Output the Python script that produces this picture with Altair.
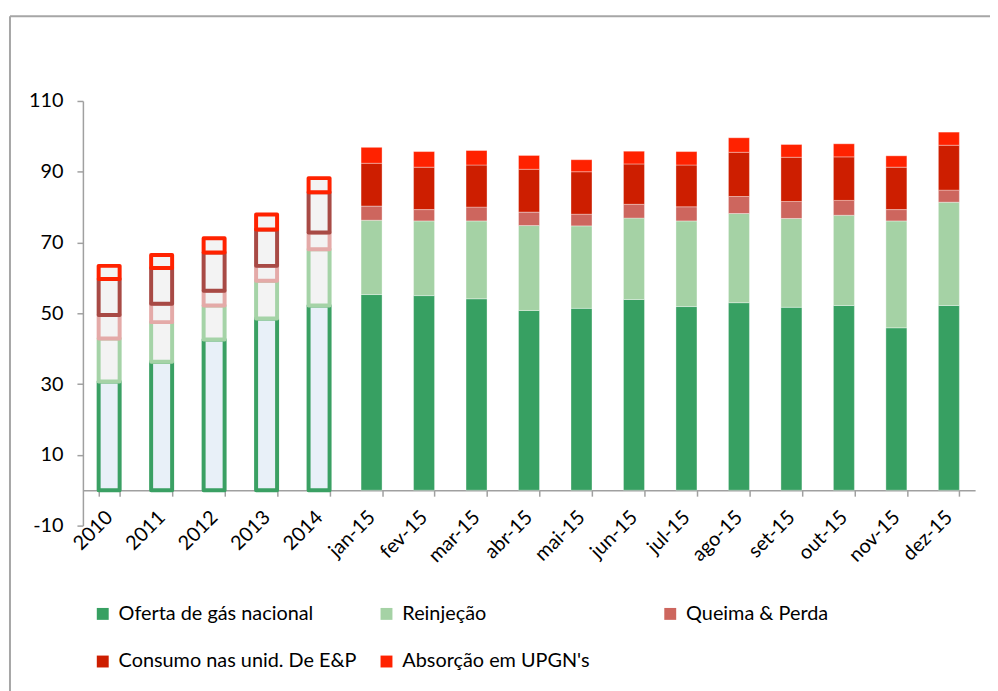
import altair as alt
import pandas as pd

CATEGORIES = ["2010", "2011", "2012", "2013", "2014",
              "jan-15", "fev-15", "mar-15", "abr-15", "mai-15", "jun-15",
              "jul-15", "ago-15", "set-15", "out-15", "nov-15", "dez-15"]
ANNUAL = ["2010", "2011", "2012", "2013", "2014"]
SERIES = ["Oferta de gás nacional", "Reinjeção", "Queima & Perda",
          "Consumo nas unid. De E&P", "Absorção em UPGN's"]

oferta = [30.7, 36.3, 42.6, 48.5, 52.2, 55.3, 55.0, 54.1, 50.8, 51.4, 53.9,
          51.9, 53.0, 51.7, 52.2, 45.9, 52.2]
reinjecao = [12.2, 11.2, 9.6, 10.7, 15.9, 21.0, 21.1, 22.0, 24.0, 23.3, 23.0,
             24.2, 25.2, 25.1, 25.5, 30.2, 29.2]
queima = [6.6, 5.2, 4.2, 4.2, 4.7, 4.0, 3.2, 3.9, 3.8, 3.3, 3.9,
          4.0, 4.8, 4.8, 4.2, 3.2, 3.4]
consumo = [10.2, 10.1, 10.8, 10.3, 11.4, 12.1, 12.0, 11.9, 12.1, 12.0, 11.4,
           11.8, 12.5, 12.5, 12.3, 12.0, 12.7]
absorcao = [3.7, 3.7, 4.0, 4.2, 4.0, 4.5, 4.4, 4.1, 3.9, 3.4, 3.6,
            3.8, 4.1, 3.6, 3.7, 3.2, 3.7]

FILL_COLORS = ["#37A062", "#A5D2A5", "#CD665E", "#CD1E00", "#FF2200"]
ANNUAL_STROKES = ["#3AA063", "#A5D3A7", "#E4AAA8", "#A84A45", "#FF2200"]

rows = []
for i, c in enumerate(CATEGORIES):
    base = 0.0
    for k, (s, vals) in enumerate(zip(SERIES, [oferta, reinjecao, queima, consumo, absorcao])):
        v = vals[i]
        rows.append({"cat": c, "series": s, "k": k, "y0": base, "y1": base + v,
                     "annual": c in ANNUAL})
        base += v
df = pd.DataFrame(rows)
annual_df = df[df["annual"]]
monthly_df = df[~df["annual"]]

FONT = "Lato"
AXIS_GRAY = "#A0A0A0"

x_enc = alt.X(
    "cat:N",
    sort=CATEGORIES,
    scale=alt.Scale(domain=CATEGORIES, paddingInner=0.6, paddingOuter=0.3),
    axis=alt.Axis(
        title=None, labelAngle=-45, labelAlign="right", labelBaseline="middle",
        offset=-35.67, domainColor=AXIS_GRAY, domainWidth=1.5, tickColor=AXIS_GRAY,
        tickWidth=1.5, tickSize=6, tickBand="extent", labelPadding=18,
        labelFontSize=20, labelFont=FONT, labelColor="#000000",
    ),
)
y_enc = alt.Y(
    "y0:Q",
    scale=alt.Scale(domain=[-10, 110], nice=False, zero=False),
    axis=alt.Axis(
        title=None, values=[-10, 10, 30, 50, 70, 90, 110], grid=False,
        labelExpr="'' + datum.value",
        domainColor=AXIS_GRAY, domainWidth=1.5, tickColor=AXIS_GRAY, tickWidth=1.5,
        tickSize=6, labelPadding=14, labelFontSize=20, labelFont=FONT,
        labelColor="#000000",
    ),
)

monthly = alt.Chart(monthly_df).mark_bar(
    stroke="white", strokeOpacity=0.35, strokeWidth=1
).encode(
    x=x_enc,
    y=y_enc,
    y2="y1:Q",
    fill=alt.Fill(
        "series:N",
        sort=SERIES,
        scale=alt.Scale(domain=SERIES, range=FILL_COLORS),
        legend=alt.Legend(
            title=None, orient="none", legendX=10, legendY=507, columns=3,
            direction="horizontal",
            gridAlign="all", columnPadding=20, rowPadding=28,
            symbolType="square", symbolSize=144, symbolStrokeWidth=0,
            labelFontSize=20, labelFont=FONT, labelColor="#000000",
            labelOffset=6, padding=0, labelLimit=400,
        ),
    ),
)

annual = alt.Chart(annual_df).mark_bar(strokeWidth=4, strokeJoin="round").encode(
    x=x_enc,
    y=y_enc,
    y2="y1:Q",
    fill=alt.condition(alt.datum.series == SERIES[0],
                       alt.value("#E8F0F8"), alt.value("#F3F3F3")),
    stroke=alt.Stroke("series:N", scale=alt.Scale(domain=SERIES, range=ANNUAL_STROKES),
                      legend=None),
    order=alt.Order("k:Q"),
)

one = pd.DataFrame({"a": [0]})
frame_top = alt.Chart(one).mark_rule(color="#A6A6A6", strokeWidth=2).encode(
    x=alt.value(-73.5), x2=alt.value(1000), y=alt.value(-85.3)
)
frame_left = alt.Chart(one).mark_rule(color="#A6A6A6", strokeWidth=2).encode(
    x=alt.value(-73.5), y=alt.value(-85.3), y2=alt.value(700)
)

chart = (
    alt.layer(frame_top, frame_left, monthly, annual)
    .properties(
        width=899.3,
        height=428,
        autosize=alt.AutoSizeParams(type="none"),
        padding={"left": 75.5, "top": 91, "right": 15, "bottom": 164},
    )
    .configure(font=FONT, background="white")
    .configure_view(strokeWidth=0, stroke="transparent")
)

chart.save("out.html", embed_options={"renderer": "svg", "actions": False})
